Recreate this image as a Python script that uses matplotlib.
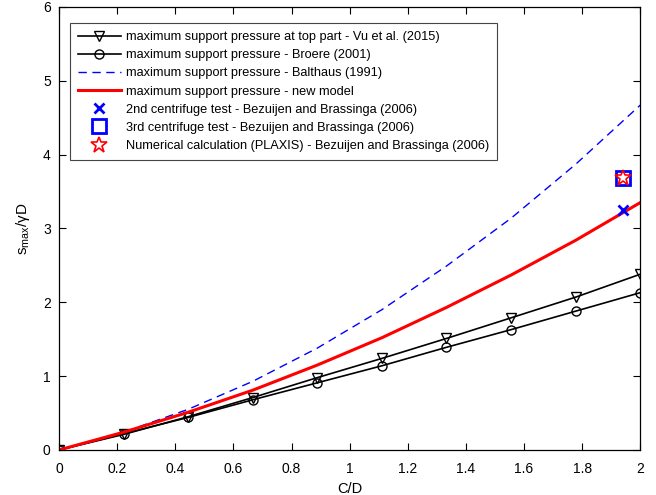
import numpy as np
import matplotlib
matplotlib.use("Agg")
from matplotlib import pyplot as plt

plt.rcParams['font.family'] = ['Liberation Sans', 'DejaVu Sans']

# C/D sample points
cd = [0, 0.222, 0.444, 0.667, 0.889, 1.111, 1.333, 1.556, 1.778, 2.0]

vu = [0, 0.21, 0.45, 0.71, 0.98, 1.24, 1.51, 1.79, 2.07, 2.38]
broere = [0, 0.22, 0.44, 0.68, 0.91, 1.14, 1.39, 1.63, 1.88, 2.13]
balthaus = [0, 0.24, 0.55, 0.93, 1.38, 1.90, 2.49, 3.14, 3.87, 4.67]
new_model = [0, 0.24, 0.51, 0.81, 1.15, 1.52, 1.93, 2.37, 2.84, 3.35]

# Bezuijen and Brassinga (2006)
test_cd = [1.94]
centrifuge2 = [3.25]
centrifuge3 = [3.68]
plaxis = [3.68]

fig = plt.figure(figsize=(6.56, 4.95), dpi=100)
ax1 = fig.add_axes([0.090, 0.091, 0.886, 0.895])

ax1.plot(cd, vu, color='k', lw=1.2, marker='v', ms=7, mfc='none', mew=1.0,
         label='maximum support pressure at top part - Vu et al. (2015)')
ax1.plot(cd, broere, color='k', lw=1.2, marker='o', ms=6.5, mfc='none', mew=1.0,
         label='maximum support pressure - Broere (2001)')
ax1.plot(cd, balthaus, color='b', lw=1.0, ls=(0, (6, 4)),
         label='maximum support pressure - Balthaus (1991)')
ax1.plot(cd, new_model, color='r', lw=2.2,
         label='maximum support pressure - new model')
ax1.plot(test_cd, centrifuge2, ls='none', marker='x', color='b', ms=7, mew=2,
         label='2nd centrifuge test - Bezuijen and Brassinga (2006)')
ax1.plot(test_cd, centrifuge3, ls='none', marker='s', color='b', mfc='none', ms=9.5, mew=2,
         label='3rd centrifuge test - Bezuijen and Brassinga (2006)')
ax1.plot(test_cd, plaxis, ls='none', marker='*', color='r', mfc='none', ms=12, mew=1.2,
         label='Numerical calculation (PLAXIS) - Bezuijen and Brassinga (2006)')

ax1.set_xlim(0, 2)
ax1.set_ylim(0, 6)
ax1.set_xticks(np.arange(0, 2.01, 0.2))
ax1.set_xticklabels(['0', '0.2', '0.4', '0.6', '0.8', '1', '1.2', '1.4', '1.6', '1.8', '2'])
ax1.set_yticks(range(7))
ax1.tick_params(direction='in', top=True, right=True, labelsize=10, length=5, width=0.8)
ax1.tick_params(axis='x', pad=9)
ax1.tick_params(axis='y', pad=6)
for s in ax1.spines.values():
    s.set_linewidth(0.9)

ax1.set_xlabel('C/D', fontsize=10.5, labelpad=4)
ax1.set_ylabel(r'$\mathregular{s_{max}/\gamma D}$', fontsize=11, labelpad=8)

leg = ax1.legend(loc='upper left', bbox_to_anchor=(0.019, 0.964), borderaxespad=0,
                 fontsize=9.2, handlelength=3.3, handletextpad=0.4, borderpad=0.65,
                 labelspacing=0.48, fancybox=False, framealpha=1, edgecolor='#444444')
leg.get_frame().set_linewidth(0.8)

plt.savefig('out.png', dpi=100)
